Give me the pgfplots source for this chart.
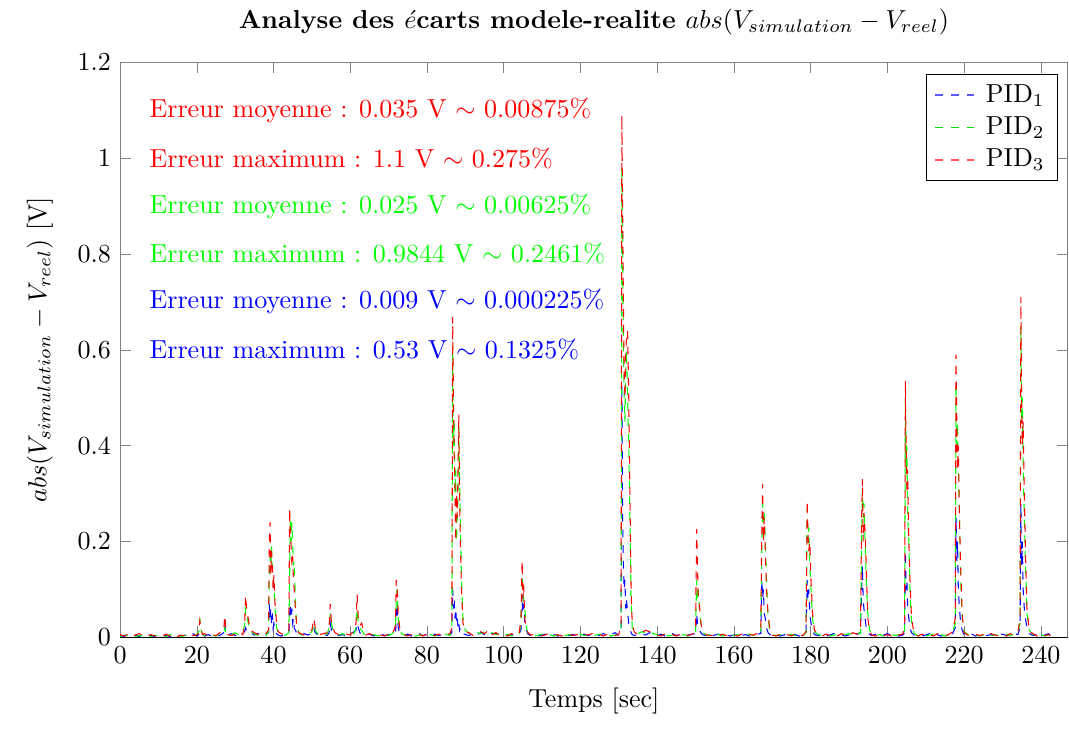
\documentclass[border=0pt]{standalone}
\usepackage{pgfplots}
\usepackage{pgfplotstable}
\pgfplotsset{compat=1.18}

% t  PID1  PID2  PID3
\pgfplotstableread{
t b g r
0 .004 .002 .006
1 .002 .005 .003
2 .006 .003 .007
3 .003 .006 .002
4 .005 .002 .005
5 .002 .004 .008
6 .007 .003 .004
7 .003 .006 .002
8 .004 .002 .006
9 .002 .005 .003
10 .006 .003 .005
11 .003 .004 .002
12 .005 .002 .007
13 .002 .006 .003
14 .004 .003 .006
15 .006 .005 .002
16 .003 .002 .005
17 .005 .004 .003
18 .002 .006 .007
19 .008 .003 .004
20 .003 .006 .005
20.5 .006 .012 .010
20.8 .010 .040 .035
21.1 .004 .015 .018
21.5 .006 .008 .006
22 .003 .004 .008
23 .006 .007 .003
24 .002 .004 .006
25 .007 .003 .004
26 .004 .008 .010
27 .010 .006 .012
27.3 .030 .020 .046
27.6 .008 .010 .015
28 .005 .004 .006
29 .008 .006 .004
30 .004 .010 .007
31 .006 .005 .012
32 .010 .008 .006
32.5 .012 .030 .025
32.7 .020 .060 .088
33 .015 .050 .060
33.3 .012 .035 .045
33.7 .008 .020 .025
34 .010 .012 .015
35 .005 .008 .010
36 .008 .004 .006
37 .004 .006 .003
38 .006 .003 .008
38.7 .010 .012 .015
38.9 .070 .120 .200
39.1 .040 .170 .240
39.3 .060 .150 .130
39.5 .030 .190 .180
39.7 .050 .140 .150
39.9 .020 .130 .100
40.1 .030 .110 .130
40.4 .015 .060 .070
40.8 .008 .020 .030
41.2 .005 .010 .012
42 .003 .006 .008
43 .006 .004 .005
44 .008 .010 .015
44.2 .050 .120 .270
44.4 .070 .250 .220
44.6 .040 .200 .190
44.8 .060 .240 .150
45.0 .030 .200 .170
45.2 .040 .150 .120
45.4 .020 .160 .100
45.7 .015 .080 .060
46.0 .010 .030 .030
46.5 .006 .012 .010
47 .004 .006 .008
48 .008 .004 .005
49 .005 .007 .010
50 .010 .012 .015
50.5 .020 .030 .040
50.9 .010 .015 .020
51.5 .006 .008 .010
52 .004 .005 .006
53 .007 .003 .008
54 .004 .008 .010
54.5 .010 .020 .025
54.8 .030 .050 .070
55.1 .015 .030 .030
55.5 .010 .015 .020
56 .006 .008 .010
57 .004 .005 .006
58 .006 .008 .004
59 .003 .004 .007
60 .008 .006 .005
61 .012 .008 .015
61.5 .015 .020 .030
61.8 .030 .060 .090
62.1 .020 .035 .040
62.5 .010 .020 .025
63 .008 .015 .030
63.5 .005 .008 .010
64 .004 .006 .005
65 .007 .003 .008
66 .003 .006 .004
67 .005 .004 .006
68 .008 .003 .005
69 .004 .007 .003
70 .006 .004 .008
71 .005 .008 .006
71.8 .010 .020 .025
72.0 .040 .080 .120
72.2 .070 .100 .110
72.5 .020 .040 .050
72.9 .010 .015 .020
73.5 .006 .008 .010
74 .004 .005 .006
75 .007 .004 .003
76 .003 .006 .007
77 .005 .003 .004
78 .008 .005 .006
79 .004 .007 .003
80 .006 .004 .008
81 .003 .006 .005
82 .007 .003 .004
83 .004 .005 .007
84 .006 .004 .003
85 .003 .007 .006
86 .005 .004 .008
86.5 .010 .015 .020
86.7 .100 .610 .668
86.9 .060 .400 .500
87.1 .080 .450 .380
87.3 .040 .300 .320
87.5 .060 .350 .200
87.7 .030 .200 .300
87.9 .040 .250 .250
88.1 .020 .300 .350
88.3 .030 .440 .465
88.5 .015 .350 .300
88.7 .020 .250 .200
89.0 .010 .120 .100
89.4 .008 .040 .030
90 .006 .015 .012
91 .004 .008 .010
92 .008 .006 .004
93 .005 .010 .007
94 .010 .008 .012
95 .006 .012 .008
96 .012 .007 .015
97 .007 .010 .006
98 .009 .006 .010
99 .005 .008 .004
100 .007 .004 .006
101 .004 .007 .003
102 .006 .003 .008
103 .003 .006 .005
104 .008 .005 .006
104.5 .015 .030 .040
104.8 .090 .130 .160
105.0 .050 .100 .080
105.2 .070 .080 .110
105.5 .030 .060 .040
105.8 .020 .030 .020
106.2 .008 .010 .012
107 .004 .006 .005
108 .006 .003 .007
109 .003 .005 .004
110 .005 .007 .003
111 .007 .004 .006
112 .004 .006 .008
113 .006 .003 .004
114 .003 .005 .006
115 .005 .008 .003
116 .008 .004 .005
117 .004 .006 .007
118 .006 .003 .004
119 .003 .005 .006
120 .005 .007 .003
121 .007 .004 .006
122 .004 .006 .005
123 .006 .003 .008
124 .003 .005 .004
125 .005 .007 .006
126 .008 .004 .003
127 .004 .006 .007
128 .006 .003 .005
129 .010 .005 .004
130 .005 .008 .006
130.6 .010 .020 .030
130.8 .530 .984 1.090
131.0 .250 .800 .900
131.2 .150 .600 .700
131.4 .100 .500 .550
131.6 .120 .450 .500
131.8 .060 .550 .600
132.0 .080 .600 .620
132.3 .050 .500 .640
132.6 .030 .400 .500
132.9 .020 .250 .300
133.2 .010 .080 .100
133.5 .006 .020 .030
134 .004 .010 .012
135 .006 .008 .005
136 .008 .012 .010
137 .005 .010 .015
138 .010 .014 .012
139 .006 .008 .010
140 .004 .006 .005
141 .007 .004 .003
142 .003 .006 .007
143 .005 .003 .004
144 .008 .005 .006
145 .004 .007 .003
146 .006 .004 .008
147 .003 .006 .005
148 .005 .003 .004
149 .007 .005 .006
150 .008 .010 .012
150.3 .050 .120 .226
150.5 .030 .080 .150
150.7 .020 .100 .090
151.0 .015 .060 .070
151.4 .010 .030 .030
151.8 .006 .012 .015
152.5 .004 .006 .008
153 .006 .004 .005
154 .003 .007 .004
155 .005 .004 .006
156 .007 .006 .003
157 .004 .003 .007
158 .006 .005 .004
159 .003 .007 .006
160 .005 .004 .005
161 .008 .006 .003
162 .004 .003 .007
163 .006 .005 .004
164 .003 .007 .006
165 .005 .004 .005
166 .007 .006 .008
167 .008 .010 .012
167.3 .120 .200 .240
167.5 .080 .280 .320
167.7 .100 .240 .200
167.9 .050 .260 .250
168.2 .040 .200 .180
168.5 .020 .120 .100
168.9 .010 .040 .050
169.4 .006 .012 .015
170 .004 .006 .005
171 .007 .004 .003
172 .003 .006 .007
173 .005 .003 .004
174 .008 .005 .006
175 .004 .007 .003
176 .006 .004 .008
177 .003 .006 .005
178 .005 .003 .004
178.8 .008 .010 .012
179.1 .120 .270 .285
179.3 .080 .200 .220
179.5 .100 .230 .180
179.8 .050 .150 .200
180.1 .030 .100 .120
180.5 .015 .040 .050
181 .006 .012 .015
182 .004 .006 .005
183 .007 .004 .003
184 .003 .006 .007
185 .005 .003 .004
186 .008 .005 .006
187 .004 .007 .003
188 .006 .004 .008
189 .003 .006 .005
190 .005 .008 .004
191 .008 .005 .010
192 .006 .010 .007
193 .010 .008 .012
193.3 .100 .200 .250
193.5 .150 .310 .330
193.7 .080 .250 .200
193.9 .060 .280 .260
194.2 .040 .200 .220
194.5 .020 .120 .150
194.9 .010 .050 .040
195.4 .006 .015 .012
196 .004 .006 .005
197 .007 .004 .003
198 .003 .006 .007
199 .005 .003 .004
200 .008 .005 .006
201 .004 .007 .003
202 .006 .004 .008
203 .003 .006 .005
204 .005 .003 .007
204.5 .010 .015 .020
204.7 .180 .500 .535
204.9 .100 .350 .400
205.1 .120 .400 .300
205.3 .060 .250 .350
205.6 .040 .200 .200
205.9 .020 .100 .120
206.3 .010 .030 .040
207 .005 .008 .006
208 .007 .004 .003
209 .003 .006 .007
210 .005 .003 .004
211 .008 .005 .006
212 .004 .007 .003
213 .006 .004 .008
214 .003 .006 .005
215 .005 .003 .004
216 .007 .005 .006
217 .008 .010 .012
217.7 .020 .030 .040
217.9 .250 .520 .590
218.1 .160 .400 .450
218.3 .200 .450 .350
218.5 .100 .350 .400
218.8 .060 .250 .250
219.1 .030 .120 .150
219.5 .015 .040 .050
220 .006 .012 .010
221 .004 .006 .005
222 .007 .004 .003
223 .003 .006 .007
224 .005 .003 .004
225 .008 .005 .006
226 .004 .007 .003
227 .006 .004 .008
228 .003 .006 .005
229 .005 .003 .004
230 .007 .005 .006
231 .004 .007 .003
232 .006 .004 .008
233 .008 .006 .005
234 .006 .008 .010
234.6 .020 .030 .040
234.8 .280 .650 .710
235.0 .150 .450 .500
235.2 .200 .500 .400
235.4 .100 .350 .450
235.7 .060 .250 .300
236.0 .040 .150 .180
236.4 .020 .050 .060
237 .008 .015 .012
238 .004 .006 .008
239 .007 .004 .003
240 .003 .006 .007
241 .005 .003 .004
242 .008 .005 .006
242.5 .004 .002 .003
}\ecarts

\begin{document}
\begin{tikzpicture}
\begin{axis}[
	scale only axis,
	width=364pt, height=221pt,
	xmin=0, xmax=247,
	ymin=0, ymax=1.2,
	xtick={0,20,...,240},
	ytick={0,0.2,0.4,0.6,0.8,1,1.2},
	axis line style={black!50},
	tick style={black!50},
	title={\textbf{Analyse des $\acute{e}$carts modele-realite $abs(V_{simulation}-V_{reel})$}},
	title style={yshift=1pt},
	xlabel={Temps [sec]},
	ylabel={$abs(V_{simulation}-V_{reel})$ [V]},
	xlabel shift=2.4pt,
	ylabel shift=2.6pt,
	legend style={at={(0.99,0.98)}, anchor=north east},
	legend cell align=left,
]
\addlegendimage{blue!65!white, dashed, line width=0.7pt}
\addlegendentry{PID$_1$}
\addlegendimage{green!85!black, dashed, line width=0.7pt}
\addlegendentry{PID$_2$}
\addlegendimage{red!65!white, dashed, line width=0.7pt}
\addlegendentry{PID$_3$}

\addplot[blue, dashed, forget plot] table[x=t, y=b] {\ecarts};
\addplot[green, dashed, forget plot] table[x=t, y=g] {\ecarts};
\addplot[red, dashed, forget plot] table[x=t, y=r] {\ecarts};

\draw[black] (rel axis cs:0,0) -- (rel axis cs:1,0);

\node[anchor=west, red]   at (axis cs:5.3,1.1) {Erreur moyenne : 0.035 V $\sim$ 0.00875\%};
\node[anchor=west, red]   at (axis cs:5.3,1.0) {Erreur maximum : 1.1 V $\sim$ 0.275\%};
\node[anchor=west, green] at (axis cs:5.3,0.9) {Erreur moyenne : 0.025 V $\sim$ 0.00625\%};
\node[anchor=west, green] at (axis cs:5.3,0.8) {Erreur maximum : 0.9844 V $\sim$ 0.2461\%};
\node[anchor=west, blue]  at (axis cs:5.3,0.7) {Erreur moyenne : 0.009 V $\sim$ 0.000225\%};
\node[anchor=west, blue]  at (axis cs:5.3,0.6) {Erreur maximum : 0.53 V $\sim$ 0.1325\%};
\end{axis}
% room left and below, as in the reference
\path (current bounding box.south west) ++(-7pt,-3pt);
\end{tikzpicture}
\end{document}
